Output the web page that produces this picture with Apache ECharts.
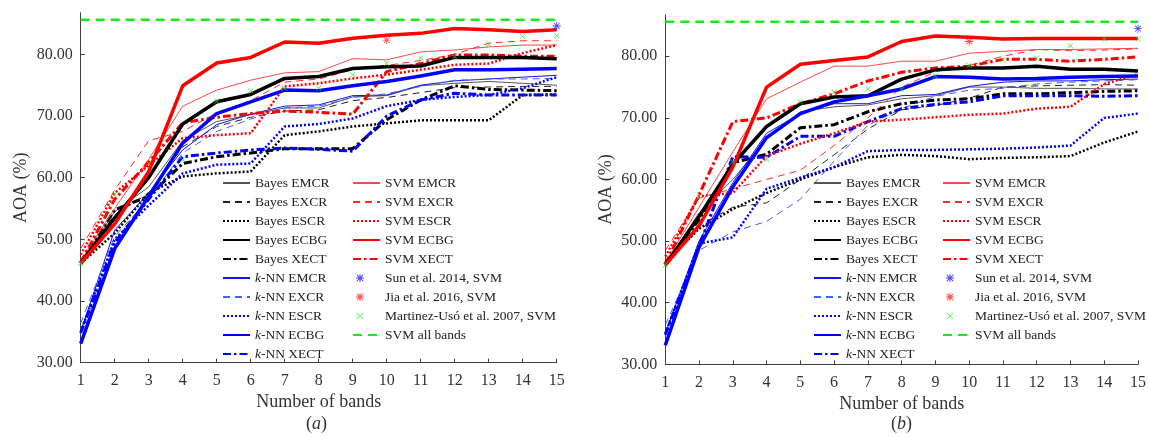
<!DOCTYPE html>
<html><head><meta charset="utf-8">
<script src="https://cdn.jsdelivr.net/npm/echarts@6/dist/echarts.min.js"></script>
<style>html,body{margin:0;padding:0;background:#fff}#c{width:1149px;height:437px}</style>
</head><body><div id="c"></div>
<script>
// ---------------- data ----------------
const bands = [1,2,3,4,5,6,7,8,9,10,11,12,13,14,15];
const yTicks = [30,40,50,60,70,80];

// panel (a)
const a_bayesEMCR = [46.1,54.5,58.5,66.0,69.1,70.2,71.3,71.3,73.1,73.3,74.9,75.3,75.6,75.3,75.0];
const a_bayesEXCR = [46.1,54.0,57.5,65.0,68.3,69.8,70.8,71.0,72.5,73.0,73.8,74.6,74.7,74.8,74.8];
const a_bayesESCR = [46.1,51.0,57.5,60.2,60.7,61.0,66.9,67.5,68.3,68.8,69.3,69.3,69.3,73.4,73.5];
const a_bayesECBG = [46.1,53.5,60.0,68.7,72.3,73.5,76.1,76.4,77.7,78.0,78.1,79.5,79.5,79.5,79.3];
const a_bayesXECT = [46.1,54.8,57.0,62.3,63.4,64.0,64.7,64.7,64.7,69.4,72.6,74.9,74.3,74.2,74.1];
const a_svmEMCR   = [46.5,55.0,63.0,71.6,74.2,75.8,77.0,77.2,79.3,79.1,80.4,80.7,81.2,81.5,81.5];
const a_svmEXCR   = [48.5,58.0,66.0,67.5,70.5,72.5,75.5,76.0,77.5,78.2,79.0,80.0,81.8,82.2,82.2];
const a_svmESCR   = [47.5,57.5,62.0,66.4,66.9,67.2,74.8,75.3,76.1,76.7,77.5,78.3,78.5,80.2,81.5];
const a_svmECBG   = [46.1,52.5,61.0,74.9,78.6,79.5,82.0,81.8,82.6,83.1,83.4,84.2,84.0,83.7,84.0];
const a_svmXECT   = [46.3,56.5,62.5,68.9,69.8,70.4,70.8,70.6,70.3,77.2,78.5,79.9,79.9,79.7,79.7];
const a_knnEMCR   = [35.0,51.5,57.5,64.5,68.6,70.3,71.6,71.8,73.3,73.4,75.0,75.7,76.0,76.3,76.6];
const a_knnEXCR   = [36.4,50.5,56.5,64.0,67.5,69.5,71.3,71.6,73.0,73.6,74.8,75.8,76.0,76.0,76.1];
const a_knnESCR   = [35.0,50.0,55.5,60.7,62.1,62.3,68.3,68.7,69.6,71.6,72.6,73.1,73.4,74.5,76.3];
const a_knnECBG   = [33.1,48.5,57.0,65.6,70.4,72.3,74.2,74.1,74.9,75.6,76.5,77.5,77.5,77.6,77.7];
const a_knnXECT   = [34.8,49.5,56.5,63.4,64.0,64.5,64.8,64.6,64.3,70.0,72.6,73.7,73.4,73.4,73.4];
const a_martinez  = [46.1,57.3,62.3,62.9,72.4,74.1,74.5,74.5,76.7,78.5,79.4,79.6,81.6,82.9,83.0];
const a_sunBands = [15],  a_sun = [84.6];
const a_jiaBands = [10],  a_jia = [82.3];
const a_allBands = 85.6;

// panel (b)
const b_bayesEMCR = [46.1,54.6,60.0,66.5,71.0,71.8,72.1,73.1,73.6,75.0,75.0,74.8,74.8,74.7,74.7];
const b_bayesEXCR = [46.3,52.5,55.5,56.2,60.0,64.0,68.2,71.3,72.0,73.2,75.0,75.2,75.3,75.4,75.3];
const b_bayesESCR = [46.5,52.0,55.2,57.8,60.0,62.0,63.6,64.0,63.8,63.3,63.5,63.6,63.8,66.0,67.8];
const b_bayesECBG = [46.1,54.0,62.5,68.6,72.3,73.4,73.6,76.3,77.8,78.1,78.1,78.4,77.9,77.9,77.6];
const b_bayesXECT = [46.1,53.5,62.7,64.1,68.4,68.9,71.0,72.3,72.9,73.1,73.9,73.9,74.1,74.3,74.4];
const b_svmEMCR   = [46.5,55.5,64.5,73.1,75.8,78.4,78.4,79.2,79.2,80.5,80.8,81.1,81.1,81.2,81.3];
const b_svmEXCR   = [48.5,57.0,58.5,60.0,61.5,65.5,70.0,75.0,77.5,78.5,80.0,81.1,80.9,81.0,81.2];
const b_svmESCR   = [47.5,57.3,57.8,63.8,65.8,67.5,69.4,69.7,70.1,70.5,70.7,71.5,71.8,75.5,77.1];
const b_svmECBG   = [46.1,52.5,62.0,75.0,78.7,79.3,79.9,82.4,83.3,83.1,82.8,82.9,82.9,82.9,82.9];
const b_svmXECT   = [46.3,57.5,69.4,70.0,72.3,73.9,76.0,77.4,78.1,78.4,79.5,79.5,79.2,79.5,79.9];
const b_knnEMCR   = [35.0,50.0,59.5,67.5,70.7,72.3,72.3,73.6,73.8,75.1,75.8,76.0,76.0,76.2,76.3];
const b_knnEXCR   = [36.4,48.5,51.5,53.2,56.8,63.0,68.8,71.5,73.5,74.5,74.8,75.5,75.8,76.0,76.2];
const b_knnESCR   = [35.0,49.6,50.6,58.5,60.3,62.0,64.6,64.8,64.8,64.9,65.0,65.2,65.5,70.0,70.7];
const b_knnECBG   = [33.1,49.0,58.8,66.8,70.7,72.6,73.6,74.7,76.7,76.6,76.3,76.4,76.6,76.7,76.8];
const b_knnXECT   = [34.8,49.2,63.7,63.6,67.0,67.0,69.4,71.5,72.2,72.6,73.6,73.6,73.6,73.5,73.6];
const b_martinez  = [46.1,57.2,62.8,63.3,72.6,74.2,74.7,74.6,76.8,78.5,79.4,79.7,81.7,82.8,82.8];
const b_sunBands = [15],  b_sun = [84.5];
const b_jiaBands = [10],  b_jia = [82.4];
const b_allBands = 85.6;

const legendCol1 = ['Bayes EMCR','Bayes EXCR','Bayes ESCR','Bayes ECBG','Bayes XECT',
                    'k-NN EMCR','k-NN EXCR','k-NN ESCR','k-NN ECBG','k-NN XECT'];
const legendCol2 = ['SVM EMCR','SVM EXCR','SVM ESCR','SVM ECBG','SVM XECT',
                    'Sun et al. 2014, SVM','Jia et al. 2016, SVM','Martinez-Usó et al. 2007, SVM','SVM all bands'];

// ---------------- styles ----------------
const FONT = '"Liberation Serif","Times New Roman",serif';
const methodStyle = {
  EMCR: {type:'solid', width:1},
  EXCR: {type:[7,5], width:1},
  ESCR: {type:[2,2], width:2.5},
  ECBG: {type:'solid', width:3.5},
  XECT: {type:[8,3,2.5,3], width:3}
};
const clsColor = {
  Bayes: {EMCR:'#555555', EXCR:'#222222', ESCR:'#000000', ECBG:'#000000', XECT:'#000000'},
  SVM:   {EMCR:'#ff4a4a', EXCR:'#ff2a2a', ESCR:'#ff0000', ECBG:'#ff0000', XECT:'#ff0000'},
  'k-NN':{EMCR:'#1010ff', EXCR:'#4060ff', ESCR:'#0000ff', ECBG:'#0000ff', XECT:'#0000ff'}
};
const ASTER = 'path://M-4,-4 L-4,-4 M14,14 L14,14 ' +
  'M0,4.5 L10,4.5 L10,5.5 L0,5.5 Z M4.5,0 L5.5,0 L5.5,10 L4.5,10 Z ' +
  'M1.85,1.15 L8.85,8.15 L8.15,8.85 L1.15,1.85 Z M8.15,1.15 L8.85,1.85 L1.85,8.85 L1.15,8.15 Z';
const CROSS = 'path://M-4,-4 L-4,-4 M14,14 L14,14 ' +
  'M1.85,1.15 L8.85,8.15 L8.15,8.85 L1.15,1.85 Z M8.15,1.15 L8.85,1.85 L1.85,8.85 L1.15,8.15 Z';
// legend icons placed inside a 27x14 box, near the left like the original
const ASTER_L = 'path://M0,0 L0,0 M27,14 L27,14 ' +
  'M3,6.5 L11,6.5 L11,7.5 L3,7.5 Z M6.5,3 L7.5,3 L7.5,11 L6.5,11 Z ' +
  'M4.2,3.5 L10.5,9.8 L9.8,10.5 L3.5,4.2 Z M9.8,3.5 L10.5,4.2 L4.2,10.5 L3.5,9.8 Z';
const CROSS_L = 'path://M0,0 L0,0 M27,14 L27,14 ' +
  'M3.9,3.4 L10.6,10.1 L10.1,10.6 L3.4,3.9 Z M10.1,3.4 L10.6,3.9 L3.9,10.6 L3.4,10.1 Z';

const panels = [
  {Bayes:{EMCR:a_bayesEMCR,EXCR:a_bayesEXCR,ESCR:a_bayesESCR,ECBG:a_bayesECBG,XECT:a_bayesXECT},
   SVM:{EMCR:a_svmEMCR,EXCR:a_svmEXCR,ESCR:a_svmESCR,ECBG:a_svmECBG,XECT:a_svmXECT},
   'k-NN':{EMCR:a_knnEMCR,EXCR:a_knnEXCR,ESCR:a_knnESCR,ECBG:a_knnECBG,XECT:a_knnXECT},
   martinez:a_martinez, sunB:a_sunBands, sun:a_sun, jiaB:a_jiaBands, jia:a_jia, all:a_allBands},
  {Bayes:{EMCR:b_bayesEMCR,EXCR:b_bayesEXCR,ESCR:b_bayesESCR,ECBG:b_bayesECBG,XECT:b_bayesXECT},
   SVM:{EMCR:b_svmEMCR,EXCR:b_svmEXCR,ESCR:b_svmESCR,ECBG:b_svmECBG,XECT:b_svmXECT},
   'k-NN':{EMCR:b_knnEMCR,EXCR:b_knnEXCR,ESCR:b_knnESCR,ECBG:b_knnECBG,XECT:b_knnXECT},
   martinez:b_martinez, sunB:b_sunBands, sun:b_sun, jiaB:b_jiaBands, jia:b_jia, all:b_allBands}
];

const series = [];
panels.forEach((p, gi) => {
  ['Bayes','k-NN','SVM'].forEach(cls => {
    ['EMCR','EXCR','ESCR','XECT','ECBG'].forEach(m => {
      const st = methodStyle[m];
      series.push({
        name: cls + ' ' + m, type:'line', xAxisIndex:gi, yAxisIndex:gi,
        data: bands.map((b,i) => [b, p[cls][m][i]]),
        symbol:'none', showSymbol:false, smooth:false, z: m==='ECBG'?4:3,
        lineStyle:{color:clsColor[cls][m], width:st.width, type:st.type, cap:'butt'},
        itemStyle:{color:clsColor[cls][m]}
      });
    });
  });
  series.push({name:'Martinez-Usó et al. 2007, SVM', type:'scatter', xAxisIndex:gi, yAxisIndex:gi,
    data: bands.map((b,i)=>[b,p.martinez[i]]), symbol:CROSS, symbolSize:13, z:6,
    itemStyle:{color:'#22e022'}});
  series.push({name:'Sun et al. 2014, SVM', type:'scatter', xAxisIndex:gi, yAxisIndex:gi,
    data: p.sunB.map((b,i)=>[b,p.sun[i]]), symbol:ASTER, symbolSize:15, z:6,
    itemStyle:{color:'#1a1aff'}});
  series.push({name:'Jia et al. 2016, SVM', type:'scatter', xAxisIndex:gi, yAxisIndex:gi,
    data: p.jiaB.map((b,i)=>[b,p.jia[i]]), symbol:ASTER, symbolSize:15, z:6,
    itemStyle:{color:'#ff1a1a'}});
  series.push({name:'SVM all bands', type:'line', xAxisIndex:gi, yAxisIndex:gi,
    data: [[bands[0],p.all],[bands[bands.length-1],p.all]], symbol:'none', showSymbol:false, z:5,
    lineStyle:{color:'#11ee11', width:2.5, type:[9,6]}, itemStyle:{color:'#11ee11'}});
});

const grids = [
  {left:80.7, top:12.7, width:476, height:350},
  {left:665.3, top:14.7, width:475.7, height:349.6}
];
const axisColor = '#404040';
const xAxes = grids.map((g,i)=>({
  type:'value', gridIndex:i, min:1, max:15, interval:1,
  name:'Number of bands', nameLocation:'middle', nameGap:31,
  nameTextStyle:{fontFamily:FONT, fontSize:18, color:'#333'},
  axisLine:{show:true, lineStyle:{color:axisColor, width:1}},
  axisTick:{show:true, inside:true, length:4, lineStyle:{color:axisColor}},
  axisLabel:{fontFamily:FONT, fontSize:16, color:'#333', margin:10},
  splitLine:{show:false}
}));
const yAxes = grids.map((g,i)=>({
  type:'value', gridIndex:i, min:30, max:86.75, interval:10,
  name:'AOA (%)', nameLocation:'middle', nameGap:50, nameRotate:90,
  nameTextStyle:{fontFamily:FONT, fontSize:18, color:'#333'},
  axisLine:{show:true, lineStyle:{color:axisColor, width:1}},
  axisTick:{show:true, inside:true, length:4, lineStyle:{color:axisColor}, customValues:yTicks},
  axisLabel:{fontFamily:FONT, fontSize:16, color:'#333', margin:8,
             customValues:yTicks, formatter:v=>Number(v).toFixed(2)},
  splitLine:{show:false}
}));

const legendText = {fontFamily:FONT, fontSize:13.5, color:'#222',
  rich:{i:{fontFamily:FONT, fontSize:13.5, fontStyle:'italic', color:'#222'}}};
const legendFmt = name => name.startsWith('k-NN') ? '{i|k}' + name.slice(1) : name;
const scatterIcons = {
  'Sun et al. 2014, SVM': ASTER_L,
  'Jia et al. 2016, SVM': ASTER_L,
  'Martinez-Usó et al. 2007, SVM': CROSS_L
};
function legendItem(name){
  if (scatterIcons[name]) return {name, icon:scatterIcons[name]};
  return {name, itemStyle:{opacity:0}};   // hide the centre marker, keep the styled line
}
function mkLegend(left, names){
  return {left, top:176, orient:'vertical', itemWidth:27, itemHeight:14, itemGap:5,
    data:names.map(legendItem), selectedMode:false, textStyle:legendText,
    formatter:legendFmt, padding:0};
}

const option = {
  animation:false,
  backgroundColor:'#fff',
  grid: grids,
  xAxis: xAxes,
  yAxis: yAxes,
  legend: [mkLegend(222, legendCol1), mkLegend(352, legendCol2),
           mkLegend(813, legendCol1), mkLegend(942, legendCol2)],
  title: [
    {text:'({i|a})', left:306, top:415, padding:0,
     textStyle:{fontFamily:FONT, fontSize:18, fontWeight:'normal', color:'#333',
       rich:{i:{fontFamily:FONT, fontSize:18, fontStyle:'italic', color:'#333'}}}},
    {text:'({i|b})', left:891, top:415, padding:0,
     textStyle:{fontFamily:FONT, fontSize:18, fontWeight:'normal', color:'#333',
       rich:{i:{fontFamily:FONT, fontSize:18, fontStyle:'italic', color:'#333'}}}}
  ],
  series
};
const chart = echarts.init(document.getElementById('c'), null, {renderer:'canvas'});
chart.setOption(option);
</script>
</body></html>
